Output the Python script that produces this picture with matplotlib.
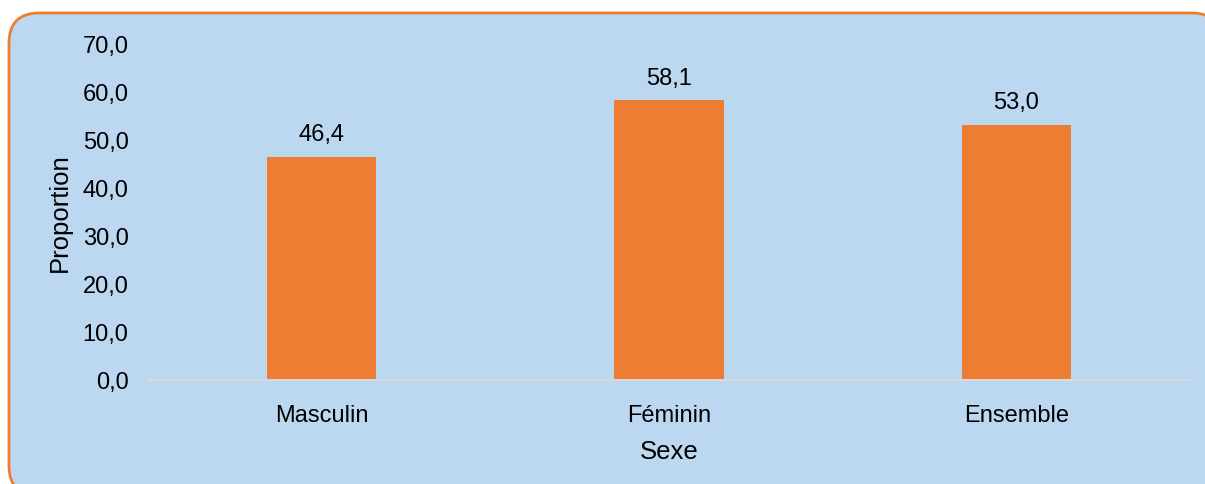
import matplotlib.pyplot as plt
from matplotlib.patches import FancyBboxPatch

categories = ["Masculin", "Féminin", "Ensemble"]
values = [46.4, 58.1, 53.0]
yticks = [0, 10, 20, 30, 40, 50, 60, 70]

orange = "#ED7D31"
bg = "#BCD8F1"

plt.rcParams['font.family'] = ['Liberation Sans', 'DejaVu Sans']

W, H = 1205, 485
fig = plt.figure(figsize=(W / 100, H / 100), dpi=100, facecolor='white')

# fond arrondi bordé d'orange (coupé à droite et en bas)
box = FancyBboxPatch((9 / W, -12 / H), (1222 - 9) / W, (471 + 12) / H,
                     boxstyle="round,pad=0,rounding_size=0.025",
                     transform=fig.transFigure, facecolor=bg, edgecolor=orange,
                     linewidth=2, mutation_aspect=W / H, zorder=-10)
fig.patches.append(box)

ax = fig.add_axes([148 / W, 104 / H, 1042 / W, 337 / H])
ax.set_facecolor('none')
ax.set_zorder(5)

x = range(len(categories))
bars = ax.bar(x, values, width=0.315, color=orange, zorder=2)
for b, v in zip(bars, values):
    ax.annotate(f"{v:.1f}".replace('.', ','), (b.get_x() + b.get_width() / 2, v),
                xytext=(0, 12), textcoords='offset points', ha='center', va='baseline',
                fontsize=17)

ax.set_xlim(-0.5, 2.5)
ax.set_ylim(0, 70)
ax.set_yticks(yticks)
ax.set_yticklabels([f"{t:.1f}".replace('.', ',') for t in yticks], fontsize=17)
ax.set_xticks(list(x))
ax.set_xticklabels(categories, fontsize=17)
ax.tick_params(axis='y', length=0, pad=14)
ax.tick_params(axis='x', length=0, pad=17)

for s in ['top', 'right', 'left']:
    ax.spines[s].set_visible(False)
ax.spines['bottom'].set_color('#D9D9D9')
ax.spines['bottom'].set_linewidth(1.5)

ax.set_ylabel("Proportion", fontsize=18.5, labelpad=8)
ax.set_xlabel("Sexe", fontsize=18.5, labelpad=10)

fig.savefig("out.png", dpi=100)
